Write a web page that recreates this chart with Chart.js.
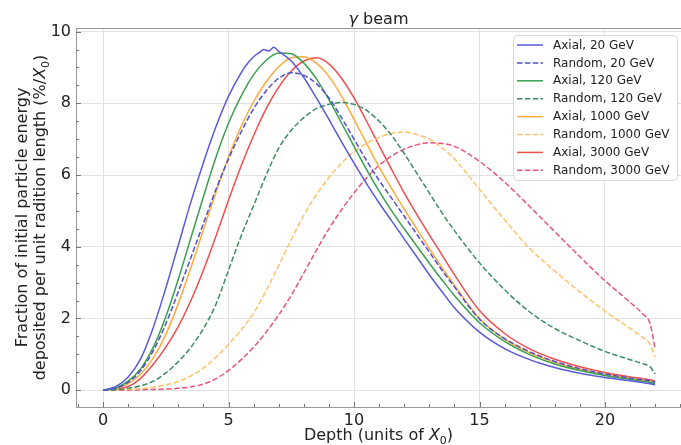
<!DOCTYPE html>
<html>
<head>
<meta charset="utf-8">
<script src="https://cdn.jsdelivr.net/npm/chart.js@4.4.1/dist/chart.umd.min.js"></script>
<style>
  html, body { margin: 0; padding: 0; background: #fff; }
  canvas { display: block; }
</style>
</head>
<body>
<canvas id="chart" width="681" height="445"></canvas>
<script>
// depth samples (units of X0) shared by most curves
const depth = [0, 0.5, 1, 1.5, 2, 2.5, 3, 3.5, 4, 4.5, 5, 5.5, 6, 6.5, 7, 7.5, 8, 8.5, 9, 9.5,
  10, 10.5, 11, 11.5, 12, 12.5, 13, 13.5, 14, 15, 16, 17, 18, 19, 20, 21, 21.5, 21.8, 22];
// the axial 20 GeV curve is noisy near its peak, so it gets a finer grid there
const depthAx20 = [0, 0.5, 1, 1.5, 2, 2.5, 3, 3.5, 4, 4.5, 5, 5.5, 5.8, 6, 6.2, 6.4, 6.6, 6.8, 7,
  7.5, 8, 8.5, 9, 9.5, 10, 10.5, 11, 11.5, 12, 12.5, 13, 13.5, 14, 15, 16, 17, 18, 19, 20, 21, 21.5, 21.8, 22];

const axial20 = [0, 0.1, 0.37, 0.88, 1.75, 2.85, 4.05, 5.25, 6.35, 7.35, 8.2, 8.85, 9.15, 9.3, 9.4, 9.5, 9.46, 9.56, 9.45,
  9.18, 8.72, 8.15, 7.55, 6.93, 6.33, 5.76, 5.22, 4.72, 4.22, 3.72, 3.22, 2.75, 2.3, 1.62, 1.16, 0.85, 0.63, 0.47, 0.35, 0.26, 0.21, 0.18, 0.14];
const random20 = [0, 0.05, 0.22, 0.55, 1.1, 1.85, 2.75, 3.7, 4.65, 5.6, 6.45, 7.2, 7.85, 8.35, 8.7, 8.85, 8.78, 8.55, 8.15, 7.6,
  7.0, 6.4, 5.85, 5.35, 4.85, 4.35, 3.85, 3.35, 2.88, 1.98, 1.44, 1.07, 0.8, 0.6, 0.45, 0.34, 0.29, 0.26, 0.22];
const axial120 = [0, 0.06, 0.25, 0.6, 1.2, 2.05, 3.1, 4.25, 5.4, 6.5, 7.45, 8.2, 8.8, 9.2, 9.4, 9.38, 9.12, 8.68, 8.1, 7.45,
  6.8, 6.15, 5.55, 5.0, 4.5, 4.02, 3.54, 3.08, 2.64, 1.88, 1.36, 0.99, 0.73, 0.55, 0.41, 0.3, 0.25, 0.22, 0.18];
const random120 = [0, 0.01, 0.05, 0.12, 0.25, 0.48, 0.8, 1.2, 1.72, 2.4, 3.35, 4.3, 5.15, 6.0, 6.75, 7.25, 7.6, 7.85, 7.97, 8.02,
  7.97, 7.8, 7.5, 7.1, 6.6, 6.05, 5.5, 4.95, 4.45, 3.55, 2.8, 2.18, 1.72, 1.38, 1.08, 0.85, 0.74, 0.65, 0.45];
const axial1000 = [0, 0.04, 0.18, 0.45, 0.9, 1.55, 2.42, 3.42, 4.48, 5.52, 6.5, 7.35, 8.05, 8.6, 9.02, 9.27, 9.3, 9.12, 8.75, 8.2,
  7.55, 6.88, 6.22, 5.62, 5.05, 4.5, 3.95, 3.42, 2.93, 2.0, 1.42, 1.04, 0.78, 0.59, 0.44, 0.33, 0.28, 0.25, 0.21];
const random1000 = [0, 0.01, 0.02, 0.04, 0.08, 0.15, 0.24, 0.4, 0.62, 0.92, 1.28, 1.68, 2.15, 2.78, 3.48, 4.2, 4.88, 5.45, 5.93, 6.33,
  6.65, 6.88, 7.05, 7.16, 7.2, 7.13, 7.0, 6.76, 6.45, 5.6, 4.75, 3.95, 3.32, 2.74, 2.2, 1.72, 1.47, 1.28, 0.92];
const axial3000 = [0, 0.03, 0.1, 0.33, 0.72, 1.2, 1.78, 2.5, 3.35, 4.3, 5.3, 6.25, 7.1, 7.85, 8.45, 8.9, 9.18, 9.27, 9.1, 8.7,
  8.15, 7.5, 6.82, 6.15, 5.5, 4.9, 4.33, 3.78, 3.22, 2.22, 1.58, 1.15, 0.86, 0.65, 0.49, 0.37, 0.32, 0.29, 0.25];
const random3000 = [0, 0, 0, 0.01, 0.02, 0.03, 0.05, 0.09, 0.17, 0.32, 0.55, 0.85, 1.2, 1.62, 2.1, 2.65, 3.27, 3.9, 4.5, 5.03,
  5.5, 5.92, 6.27, 6.53, 6.72, 6.84, 6.9, 6.88, 6.8, 6.38, 5.8, 5.12, 4.42, 3.72, 3.05, 2.45, 2.13, 1.85, 1.15];

const xTicks = [0, 5, 10, 15, 20];
const yTicks = [0, 2, 4, 6, 8, 10];

const FONT = '"DejaVu Sans", sans-serif';

function series(label, xs, ys, color, dashed) {
  return {
    label: label,
    data: xs.map((x, i) => ({ x: x, y: ys[i] })),
    borderColor: color,
    backgroundColor: color,
    borderWidth: 1.5,
    borderDash: dashed ? [5.5, 2.4] : [],
    pointRadius: 0,
    cubicInterpolationMode: "monotone",
    fill: false,
  };
}

// draws text pieces, some italic or subscript, centred on x
function drawRich(ctx, parts, x, y, size) {
  const fontFor = (p) =>
    (p[1] === "i" ? "italic " : "") + (p[1] === "sub" ? Math.round(size * 0.7) : size) + "px " + FONT;
  let w = 0;
  parts.forEach((p) => { ctx.font = fontFor(p); w += ctx.measureText(p[0]).width; });
  let cx = x - w / 2;
  parts.forEach((p) => {
    ctx.font = fontFor(p);
    ctx.fillText(p[0], cx, y + (p[1] === "sub" ? size * 0.22 : 0));
    cx += ctx.measureText(p[0]).width;
  });
}

const decorations = {
  id: "decorations",
  afterDraw(chart) {
    const ctx = chart.ctx;
    const a = chart.chartArea;
    const xs = chart.scales.x, ys = chart.scales.y;
    ctx.save();

    // top spine
    ctx.strokeStyle = "#999";
    ctx.lineWidth = 1;
    ctx.beginPath();
    ctx.moveTo(a.left, a.top + 0.5);
    ctx.lineTo(a.right, a.top + 0.5);
    ctx.stroke();

    // inward ticks, major and minor
    ctx.strokeStyle = "#777";
    ctx.beginPath();
    for (let v = -1; v <= 23; v++) {
      const px = Math.round(xs.getPixelForValue(v)) + 0.5;
      const len = v % 5 === 0 ? 5 : 3;
      ctx.moveTo(px, a.bottom);
      ctx.lineTo(px, a.bottom - len);
    }
    for (let v = 0; v <= 10; v += 0.5) {
      const py = Math.round(ys.getPixelForValue(v)) + 0.5;
      const len = v % 2 === 0 ? 5 : 3;
      ctx.moveTo(a.left, py);
      ctx.lineTo(a.left + len, py);
    }
    ctx.stroke();

    // titles
    ctx.fillStyle = "#222";
    ctx.textAlign = "left";
    ctx.textBaseline = "alphabetic";
    const cx = (a.left + a.right) / 2;
    drawRich(ctx, [["\u03b3", "i"], [" beam", ""]], cx, 24, 16);
    drawRich(ctx, [["Depth (units of ", ""], ["X", "i"], ["0", "sub"], [")", ""]], cx, 440, 16);

    const cy = (a.top + a.bottom) / 2;
    ctx.save();
    ctx.translate(27, cy);
    ctx.rotate(-Math.PI / 2);
    drawRich(ctx, [["Fraction of initial particle energy", ""]], 0, 0, 16);
    ctx.restore();
    ctx.save();
    ctx.translate(45, cy);
    ctx.rotate(-Math.PI / 2);
    drawRich(ctx, [["deposited per unit radition length (%/", ""], ["X", "i"], ["0", "sub"], [")", ""]], 0, 0, 16);
    ctx.restore();

    // legend
    const lx = 513, ly = 35, lw = 164, lh = 145, r = 4;
    ctx.fillStyle = "rgba(255,255,255,0.85)";
    ctx.strokeStyle = "#d8d8d8";
    ctx.beginPath();
    ctx.roundRect(lx + 0.5, ly + 0.5, lw, lh, r);
    ctx.fill();
    ctx.stroke();
    ctx.font = "12px " + FONT;
    ctx.textBaseline = "middle";
    chart.data.datasets.forEach((ds, i) => {
      const y = 45 + i * 17.9;
      ctx.strokeStyle = ds.borderColor;
      ctx.lineWidth = 1.5;
      ctx.setLineDash(ds.borderDash);
      ctx.beginPath();
      ctx.moveTo(517, y);
      ctx.lineTo(543, y);
      ctx.stroke();
      ctx.setLineDash([]);
      ctx.fillStyle = "#222";
      ctx.fillText(ds.label, 553, y + 0.5);
    });
    ctx.restore();
  },
};

new Chart(document.getElementById("chart"), {
  type: "line",
  data: {
    datasets: [
      series("Axial, 20 GeV", depthAx20, axial20, "#5a5ad8", false),
      series("Random, 20 GeV", depth, random20, "#5050c8", true),
      series("Axial, 120 GeV", depth, axial120, "#3aa04f", false),
      series("Random, 120 GeV", depth, random120, "#3d8c64", true),
      series("Axial, 1000 GeV", depth, axial1000, "#ffaa3c", false),
      series("Random, 1000 GeV", depth, random1000, "#ffc266", true),
      series("Axial, 3000 GeV", depth, axial3000, "#f24d4d", false),
      series("Random, 3000 GeV", depth, random3000, "#e6557a", true),
    ],
  },
  options: {
    responsive: false,
    devicePixelRatio: 1,
    animation: false,
    layout: { padding: { left: 0, right: 0, top: 28, bottom: 0 } },
    plugins: { legend: { display: false }, tooltip: { enabled: false } },
    scales: {
      x: {
        type: "linear",
        min: -1.08,
        max: 23.03,
        afterBuildTicks: (s) => { s.ticks = xTicks.map((v) => ({ value: v })); },
        afterFit: (s) => { s.height = 38; },
        grid: { color: "#e2e2e2", drawTicks: false },
        border: { color: "#999" },
        ticks: { font: { family: FONT, size: 16 }, color: "#222", padding: 4, maxRotation: 0 },
      },
      y: {
        type: "linear",
        min: -0.47,
        max: 10.1,
        afterBuildTicks: (s) => { s.ticks = yTicks.map((v) => ({ value: v })); },
        afterFit: (s) => { s.width = 76; },
        grid: { color: "#e2e2e2", drawTicks: false },
        border: { color: "#999" },
        ticks: { font: { family: FONT, size: 16 }, color: "#222", padding: 5 },
      },
    },
  },
  plugins: [decorations],
});
</script>
</body>
</html>
